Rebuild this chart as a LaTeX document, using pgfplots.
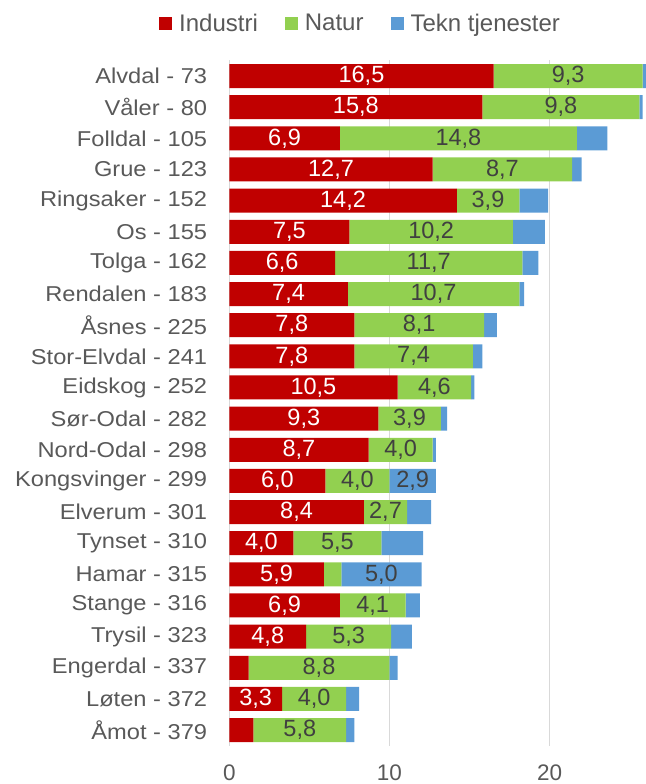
\documentclass[border=0pt]{standalone}
\usepackage{fontspec}
\setmainfont{Liberation Sans}
\newfontfamily\tickfont[FakeStretch=1.1]{Liberation Sans}
\usepackage{pgfplots}
\usepackage{pgfplotstable}
\pgfplotsset{compat=1.18}
\definecolor{cind}{HTML}{C00000}
\definecolor{cnat}{HTML}{92D050}
\definecolor{ctek}{HTML}{5B9BD5}
\definecolor{txtgray}{HTML}{595959}
\definecolor{lblgray}{HTML}{404040}
\definecolor{gridgray}{HTML}{D9D9D9}
\pgfplotstableread{
y ind nat tek li ln lt
0 16.5 9.3 0.2 16,5 9,3 {}
1 15.8 9.8 0.2 15,8 9,8 {}
2 6.9 14.8 1.9 6,9 14,8 {}
3 12.7 8.7 0.6 12,7 8,7 {}
4 14.2 3.9 1.8 14,2 3,9 {}
5 7.5 10.2 2.0 7,5 10,2 {}
6 6.6 11.7 1.0 6,6 11,7 {}
7 7.4 10.7 0.3 7,4 10,7 {}
8 7.8 8.1 0.8 7,8 8,1 {}
9 7.8 7.4 0.6 7,8 7,4 {}
10 10.5 4.6 0.2 10,5 4,6 {}
11 9.3 3.9 0.4 9,3 3,9 {}
12 8.7 4.0 0.2 8,7 4,0 {}
13 6.0 4.0 2.9 6,0 4,0 2,9
14 8.4 2.7 1.5 8,4 2,7 {}
15 4.0 5.5 2.6 4,0 5,5 {}
16 5.9 1.1 5.0 5,9 {} 5,0
17 6.9 4.1 0.9 6,9 4,1 {}
18 4.8 5.3 1.3 4,8 5,3 {}
19 1.2 8.8 0.5 {} 8,8 {}
20 3.3 4.0 0.8 3,3 4,0 {}
21 1.5 5.8 0.5 {} 5,8 {}
}\data
\begin{document}
\begin{tikzpicture}
\useasboundingbox (-229.3pt,-38.4pt) rectangle (415.7pt,745.6pt);
\begin{axis}[
  at={(0,0)}, anchor=south west,
  scale only axis,
  width=415.7pt, height=685.1pt,
  clip=false,
  xbar stacked, bar width=24pt,
  xmin=0, xmax=25.95,
  ymin=-0.5, ymax=21.5,
  y dir=reverse,
  axis line style={draw=none},
  major tick length=0pt,
  xtick={0,10,20},
  xmajorgrids,
  major grid style={color=gridgray, line width=1pt},
  ytick={0,...,21},
  yticklabels={Alvdal - 73, Våler - 80, Folldal - 105, Grue - 123, Ringsaker - 152, Os - 155, Tolga - 162, Rendalen - 183, Åsnes - 225, Stor-Elvdal - 241, Eidskog - 252, Sør-Odal - 282, Nord-Odal - 298, Kongsvinger - 299, Elverum - 301, Tynset - 310, Hamar - 315, Stange - 316, Trysil - 323, Engerdal - 337, Løten - 372, Åmot - 379},
  yticklabel style={font=\tickfont\fontsize{21.5}{24}\selectfont, text=txtgray, inner sep=0pt, anchor=east, xshift=-22pt},
  xticklabel style={font=\fontsize{22.5}{24}\selectfont, text=txtgray, inner sep=0pt, anchor=north, yshift=-19pt},
  /pgf/number format/assume math mode=true,
  point meta=explicit symbolic,
  nodes near coords={\pgfplotspointmeta},
  every node near coord/.append style={font=\fontsize{23.5}{24}\selectfont, anchor=center, inner sep=0pt},
  legend columns=3,
  legend style={at={(0,1)}, anchor=west, xshift=-70.3pt, yshift=37.2pt, draw=none, fill=none, inner sep=0pt, font=\fontsize{24}{26}\selectfont, text=txtgray, nodes={inner sep=0pt},
    /tikz/every odd column/.append style={column sep=7pt},
    /tikz/every even column/.append style={column sep=27pt}},
  legend image code/.code={\fill[#1] (0pt,-6.5pt) rectangle (13pt,6.5pt);},
]
\addplot[fill=cind, draw=none, nodes near coords style={text=white}] table[x=ind, y=y, meta=li]{\data};
\addlegendentry{Industri}
\addplot[fill=cnat, draw=none, nodes near coords style={text=lblgray}] table[x=nat, y=y, meta=ln]{\data};
\addlegendentry{Natur}
\addplot[fill=ctek, draw=none, nodes near coords style={text=lblgray}] table[x=tek, y=y, meta=lt]{\data};
\addlegendentry{Tekn tjenester}
\end{axis}
\end{tikzpicture}
\end{document}
